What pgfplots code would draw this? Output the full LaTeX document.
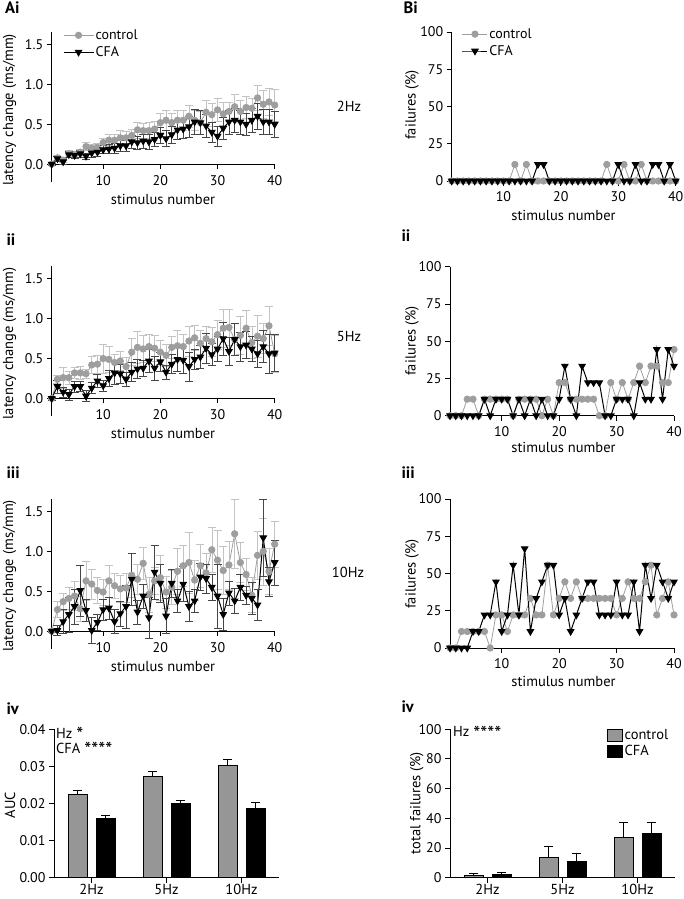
\documentclass[border=0pt]{standalone}
\usepackage{fontspec}
\setmainfont{PT Sans}
\usepackage{pgfplots}
\pgfplotsset{compat=1.18}
\usepackage{pgfplotstable}

\definecolor{ctrlc}{RGB}{158,158,158}
\definecolor{ctrlerr}{RGB}{195,195,195}
\definecolor{cfaerr}{RGB}{70,70,70}
\definecolor{barg}{RGB}{150,150,150}

\newcommand{\tickfont}{\fontsize{14}{16}\selectfont}
\newcommand{\labfont}{\fontsize{14.5}{17}\selectfont}
\newcommand{\legfont}{\fontsize{14}{16}\selectfont}
\newcommand{\panfont}{\fontsize{16.5}{18}\selectfont\bfseries}
\newcommand{\stars}[1]{\smash{\raisebox{-3.5pt}{\fontsize{20}{20}\selectfont #1}}}

% n, control mean, control sem, CFA mean, CFA sem
\pgfplotstableread{
n c ce f fe
1 0.00 0.01 0.00 0.01
2 0.08 0.03 0.07 0.03
3 0.05 0.03 0.03 0.03
4 0.13 0.04 0.12 0.04
5 0.12 0.04 0.11 0.04
6 0.15 0.04 0.13 0.04
7 0.22 0.05 0.10 0.04
8 0.20 0.05 0.14 0.05
9 0.21 0.05 0.15 0.05
10 0.27 0.06 0.18 0.05
11 0.30 0.07 0.19 0.06
12 0.30 0.08 0.20 0.06
13 0.33 0.09 0.23 0.07
14 0.33 0.08 0.23 0.07
15 0.36 0.08 0.28 0.08
16 0.43 0.10 0.27 0.08
17 0.42 0.09 0.29 0.09
18 0.42 0.10 0.28 0.09
19 0.44 0.10 0.31 0.09
20 0.52 0.12 0.36 0.10
21 0.55 0.13 0.32 0.10
22 0.52 0.12 0.37 0.11
23 0.55 0.12 0.43 0.12
24 0.55 0.13 0.44 0.12
25 0.60 0.14 0.47 0.13
26 0.55 0.13 0.53 0.16
27 0.52 0.14 0.52 0.15
28 0.65 0.15 0.48 0.14
29 0.62 0.14 0.40 0.13
30 0.68 0.14 0.35 0.13
31 0.63 0.14 0.45 0.14
32 0.66 0.12 0.53 0.15
33 0.72 0.15 0.55 0.15
34 0.66 0.14 0.53 0.15
35 0.71 0.14 0.50 0.14
36 0.70 0.12 0.55 0.15
37 0.83 0.16 0.60 0.16
38 0.75 0.17 0.53 0.16
39 0.78 0.17 0.53 0.16
40 0.74 0.20 0.50 0.16
}\Ai

\pgfplotstableread{
n c ce f fe
1 0.00 0.01 0.00 0.02
2 0.24 0.05 0.15 0.08
3 0.26 0.13 0.08 0.06
4 0.26 0.08 0.05 0.07
5 0.32 0.07 0.15 0.07
6 0.32 0.08 0.15 0.06
7 0.31 0.06 0.03 0.07
8 0.42 0.11 0.13 0.07
9 0.43 0.11 0.22 0.08
10 0.50 0.18 0.16 0.07
11 0.49 0.16 0.25 0.10
12 0.45 0.10 0.32 0.14
13 0.47 0.12 0.31 0.12
14 0.40 0.12 0.24 0.09
15 0.58 0.17 0.33 0.12
16 0.64 0.20 0.37 0.12
17 0.62 0.17 0.38 0.10
18 0.65 0.16 0.47 0.14
19 0.63 0.16 0.38 0.15
20 0.58 0.15 0.46 0.12
21 0.54 0.14 0.33 0.09
22 0.64 0.14 0.43 0.12
23 0.66 0.19 0.49 0.15
24 0.65 0.15 0.48 0.17
25 0.72 0.19 0.40 0.18
26 0.76 0.16 0.49 0.12
27 0.69 0.17 0.52 0.14
28 0.75 0.16 0.63 0.19
29 0.71 0.18 0.55 0.14
30 0.80 0.18 0.62 0.16
31 0.88 0.24 0.75 0.21
32 0.89 0.23 0.59 0.18
33 0.74 0.20 0.74 0.20
34 0.79 0.24 0.65 0.18
35 0.88 0.22 0.67 0.17
36 0.70 0.20 0.62 0.16
37 0.78 0.26 0.56 0.17
38 0.75 0.19 0.65 0.20
39 0.91 0.25 0.56 0.25
40 0.56 0.23 0.57 0.23
}\Aii

\pgfplotstableread{
n c ce f fe
1 0.00 0.02 0.00 0.02
2 0.27 0.10 0.01 0.06
3 0.37 0.11 0.12 0.15
4 0.41 0.14 0.21 0.22
5 0.44 0.18 0.31 0.22
6 0.28 0.16 0.51 0.32
7 0.63 0.24 0.26 0.14
8 0.59 0.19 0.01 0.16
9 0.51 0.16 0.11 0.10
10 0.49 0.16 0.27 0.13
11 0.63 0.20 0.29 0.14
12 0.57 0.16 0.12 0.15
13 0.53 0.17 0.22 0.16
14 0.54 0.18 0.31 0.27
15 0.70 0.28 0.65 0.33
16 0.65 0.19 0.24 0.15
17 0.85 0.20 0.44 0.15
18 0.46 0.22 0.17 0.26
19 0.63 0.17 0.74 0.34
20 0.67 0.28 0.60 0.24
21 0.49 0.20 0.19 0.22
22 0.55 0.21 0.60 0.17
23 0.75 0.29 0.38 0.14
24 0.82 0.26 0.59 0.22
25 0.86 0.38 0.31 0.19
26 0.64 0.25 0.38 0.14
27 0.82 0.27 0.68 0.17
28 0.73 0.25 0.66 0.18
29 1.02 0.28 0.55 0.16
30 0.89 0.37 0.44 0.40
31 0.76 0.30 0.21 0.20
32 0.83 0.30 0.48 0.15
33 1.22 0.43 0.38 0.16
34 0.86 0.25 0.55 0.16
35 0.71 0.20 0.45 0.11
36 0.45 0.22 0.41 0.20
37 0.95 0.30 0.33 0.20
38 1.00 0.42 1.17 0.48
39 0.75 0.29 0.62 0.18
40 1.09 0.29 0.86 0.28
}\Aiii

% failures (%): n, control, CFA
\pgfplotstableread{
n c f
1 0 0
2 0 0
3 0 0
4 0 0
5 0 0
6 0 0
7 0 0
8 0 0
9 0 0
10 0 0
11 0 0
12 11.1 0
13 0 0
14 11.1 0
15 0 0
16 0 11.1
17 0 11.1
18 0 0
19 0 0
20 0 0
21 0 0
22 0 0
23 0 0
24 0 0
25 0 0
26 0 0
27 0 0
28 11.1 0
29 0 0
30 0 11.1
31 11.1 0
32 0 0
33 0 11.1
34 11.1 0
35 0 0
36 0 11.1
37 0 11.1
38 0 0
39 0 11.1
40 0 0
}\Bi

\pgfplotstableread{
n c f
1 0 0
2 0 0
3 0 0
4 11.1 0
5 11.1 0
6 0 0
7 11.1 11.1
8 11.1 0
9 11.1 11.1
10 11.1 11.1
11 11.1 11.1
12 0 0
13 11.1 11.1
14 11.1 0
15 11.1 11.1
16 11.1 0
17 0 11.1
18 11.1 0
19 0 0
20 22.2 11.1
21 22.2 33.3
22 11.1 11.1
23 11.1 0
24 11.1 33.3
25 11.1 22.2
26 11.1 22.2
27 0 22.2
28 0 0
29 22.2 0
30 11.1 11.1
31 22.2 11.1
32 11.1 11.1
33 22.2 0
34 33.3 22.2
35 22.2 11.1
36 33.3 11.1
37 33.3 44.4
38 22.2 11.1
39 22.2 44.4
40 44.4 33.3
}\Bii

\pgfplotstableread{
n c f
1 0 0
2 0 0
3 11.1 0
4 11.1 0
5 11.1 11.1
6 11.1 11.1
7 11.1 22.2
8 0 22.2
9 22.2 44.4
10 22.2 11.1
11 11.1 22.2
12 22.2 55.6
13 22.2 22.2
14 22.2 66.7
15 33.3 11.1
16 22.2 33.3
17 22.2 44.4
18 55.6 55.6
19 22.2 55.6
20 33.3 22.2
21 44.4 33.3
22 33.3 11.1
23 44.4 22.2
24 33.3 33.3
25 33.3 44.4
26 33.3 44.4
27 33.3 22.2
28 33.3 22.2
29 33.3 22.2
30 22.2 44.4
31 33.3 22.2
32 44.4 22.2
33 33.3 44.4
34 33.3 11.1
35 44.4 55.6
36 55.6 33.3
37 22.2 55.6
38 33.3 44.4
39 44.4 33.3
40 22.2 44.4
}\Biii

\pgfplotsset{
  base/.style={scale only axis, clip=false, anchor=south west,
    axis line style={line width=0.9pt}, tick style={black, line width=0.8pt},
    major tick length=5pt, tick align=outside,
    tick label style={font=\tickfont}, /pgf/number format/assume math mode=true},
  latency/.style={base, width=223pt, height=150pt,
    axis x line*=middle, axis y line*=left, tick align=outside,
    xmin=1, xmax=40, ymin=-0.22, ymax=1.66,
    xtick={10,20,30,40}, ytick={0,0.5,1,1.5},
    x tick label style={yshift=-2.5pt},
    yticklabel style={/pgf/number format/fixed, /pgf/number format/fixed zerofill,
      /pgf/number format/precision=1}},
  fail/.style={base, width=224pt, height=149pt, axis lines*=left,
    xmin=1, xmax=40, ymin=0, ymax=100,
    x tick label style={yshift=-2.5pt},
    xtick={10,20,30,40}, ytick={0,25,50,75,100}},
  barax/.style={base, width=225pt, height=148.5pt, axis lines*=left,
    xmin=-0.5, xmax=2.5, xtick={0,1,2}, xticklabels={2Hz,5Hz,10Hz},
    x tick label style={font=\labfont, inner sep=1.5pt},
    ybar=9pt, bar width=19pt},
  ctrl/.style={ctrlc, line width=0.8pt, mark=*, mark size=3.2pt,
    mark options={fill=ctrlc, draw=ctrlc}},
  cfa/.style={black, line width=1pt, mark=triangle*, mark size=3.6pt,
    mark options={rotate=180, fill=black}},
  ctrlerrs/.style={error bars/.cd, y dir=both, y explicit,
    error bar style={ctrlerr, line width=0.6pt},
    error mark options={rotate=90, ctrlerr, mark size=4pt, line width=0.6pt}},
  cfaerrs/.style={error bars/.cd, y dir=both, y explicit,
    error bar style={cfaerr, line width=0.6pt},
    error mark options={rotate=90, cfaerr, mark size=4pt, line width=0.6pt}},
  barerrs/.style={error bars/.cd, y dir=plus, y explicit,
    error bar style={black, line width=1pt},
    error mark options={rotate=90, black, mark size=4.5pt, line width=1pt}},
  glegend/.style={legend image code/.code={\draw[fill=barg, draw=black, line width=0.8pt] (0pt,-6pt) rectangle (15pt,6pt);}},
  klegend/.style={legend image code/.code={\draw[fill=black, draw=black, line width=0.8pt] (0pt,-6pt) rectangle (15pt,6pt);}},
}

\begin{document}
\begin{tikzpicture}[x=1pt, y=1pt]
\useasboundingbox (0,0) rectangle (683,899);

% ---------- A: latency change ----------
\begin{axis}[latency, at={(51.7pt,717.3pt)},
  legend style={at={(0.05,1.025)}, anchor=north west, draw=none, fill=none,
    inner sep=0pt, font=\legfont, row sep=2.5pt, nodes={inner sep=1.5pt}},
  legend cell align=left,
  legend image code/.code={\draw[mark repeat=2,mark phase=2,#1] plot coordinates {(0pt,0pt) (15pt,0pt) (30pt,0pt)};}]
\addplot[ctrl, ctrlerrs] table[x=n, y=c, y error=ce] {\Ai};
\addplot[cfa, cfaerrs] table[x=n, y=f, y error=fe] {\Ai};
\legend{control, CFA}
\end{axis}

\begin{axis}[latency, at={(51.7pt,483pt)}]
\addplot[ctrl, ctrlerrs] table[x=n, y=c, y error=ce] {\Aii};
\addplot[cfa, cfaerrs] table[x=n, y=f, y error=fe] {\Aii};
\end{axis}

\begin{axis}[latency, at={(51.7pt,250.3pt)}]
\addplot[ctrl, ctrlerrs] table[x=n, y=c, y error=ce] {\Aiii};
\addplot[cfa, cfaerrs] table[x=n, y=f, y error=fe] {\Aiii};
\end{axis}

% ---------- B: failures ----------
\begin{axis}[fail, at={(451.7pt,718pt)},
  legend style={at={(0.045,1.035)}, anchor=north west, draw=none, fill=none,
    inner sep=0pt, font=\legfont, row sep=2.5pt, nodes={inner sep=1.5pt}},
  legend cell align=left,
  legend image code/.code={\draw[mark repeat=2,mark phase=2,#1] plot coordinates {(0pt,0pt) (12.5pt,0pt) (25pt,0pt)};}]
\addplot[ctrl] table[x=n, y=c] {\Bi};
\addplot[cfa] table[x=n, y=f] {\Bi};
\legend{control, CFA}
\end{axis}

\begin{axis}[fail, at={(450pt,483.3pt)}]
\addplot[ctrl] table[x=n, y=c] {\Bii};
\addplot[cfa] table[x=n, y=f] {\Bii};
\end{axis}

\begin{axis}[fail, at={(450pt,251pt)}]
\addplot[ctrl] table[x=n, y=c] {\Biii};
\addplot[cfa] table[x=n, y=f] {\Biii};
\end{axis}

% ---------- iv: bars ----------
\begin{axis}[barax, at={(54pt,21.3pt)}, ymin=0, ymax=0.04,
  ytick={0,0.01,0.02,0.03,0.04}, scaled y ticks=false,
  yticklabel style={/pgf/number format/fixed, /pgf/number format/fixed zerofill,
    /pgf/number format/precision=2}]
\addplot[fill=barg, draw=black, line width=0.8pt, barerrs]
  coordinates {(0,0.0225) +- (0,0.0009) (1,0.0273) +- (0,0.0012) (2,0.0302) +- (0,0.0017)};
\addplot[fill=black, draw=black, line width=0.8pt, barerrs]
  coordinates {(0,0.0160) +- (0,0.0007) (1,0.0199) +- (0,0.0009) (2,0.0186) +- (0,0.0016)};
\end{axis}

\begin{axis}[barax, at={(450pt,21.3pt)}, ymin=0, ymax=100,
  ytick={0,20,40,60,80,100},
  legend style={at={(0.698,1.01)}, anchor=north west, draw=none, fill=none,
    inner sep=0pt, font=\labfont, row sep=1pt, nodes={inner sep=1.5pt}},
  legend cell align=left]
\addplot[fill=barg, draw=black, line width=0.8pt, glegend, barerrs]
  coordinates {(0,1.8) +- (0,0.8) (1,13.5) +- (0,7.6) (2,27.0) +- (0,10.5)};
\addplot[fill=black, draw=black, line width=0.8pt, klegend, barerrs]
  coordinates {(0,2.3) +- (0,1.3) (1,11.2) +- (0,5.2) (2,29.7) +- (0,7.8)};
\legend{control, CFA}
\end{axis}

% ---------- texts ----------
\node[font=\panfont, anchor=base west] at (1.5,885) {Ai};
\node[font=\panfont, anchor=base west] at (400,885) {Bi};
\node[font=\panfont, anchor=base west] at (3,653) {ii};
\node[font=\panfont, anchor=base west] at (398,657) {ii};
\node[font=\panfont, anchor=base west] at (3,420) {iii};
\node[font=\panfont, anchor=base west] at (398,420) {iii};
\node[font=\panfont, anchor=base west] at (3,184) {iv};
\node[font=\panfont, anchor=base west] at (398,186) {iv};

\node[font=\labfont] at (349,793) {2Hz};
\node[font=\labfont] at (349,562) {5Hz};
\node[font=\labfont] at (348,327) {10Hz};

\node[font=\labfont, rotate=90] at (9.5,789) {latency change (ms/mm)};
\node[font=\labfont, rotate=90] at (9.5,555.5) {latency change (ms/mm)};
\node[font=\labfont, rotate=90] at (9.5,323) {latency change (ms/mm)};
\node[font=\labfont] at (163,700) {stimulus number};
\node[font=\labfont] at (163,465.7) {stimulus number};
\node[font=\labfont] at (163,233) {stimulus number};

\node[font=\labfont, rotate=90] at (412,794) {failures (\%)};
\node[font=\labfont, rotate=90] at (412,558) {failures (\%)};
\node[font=\labfont, rotate=90] at (412,325) {failures (\%)};
\node[font=\labfont] at (563.5,684) {stimulus number};
\node[font=\labfont] at (563.5,452) {stimulus number};
\node[font=\labfont] at (563.5,217.3) {stimulus number};

\node[font=\labfont, rotate=90] at (10,94) {AUC};
\node[font=\labfont, rotate=90] at (416.7,96) {total failures (\%)};
\node[font=\fontsize{14.5}{15}\selectfont, align=left, anchor=north west, inner sep=0pt]
  at (56,171.3) {Hz \stars{*}\\CFA \stars{****}};
\node[font=\labfont, anchor=base west, inner sep=0pt] at (453,162) {Hz \stars{****}};
\end{tikzpicture}
\end{document}
